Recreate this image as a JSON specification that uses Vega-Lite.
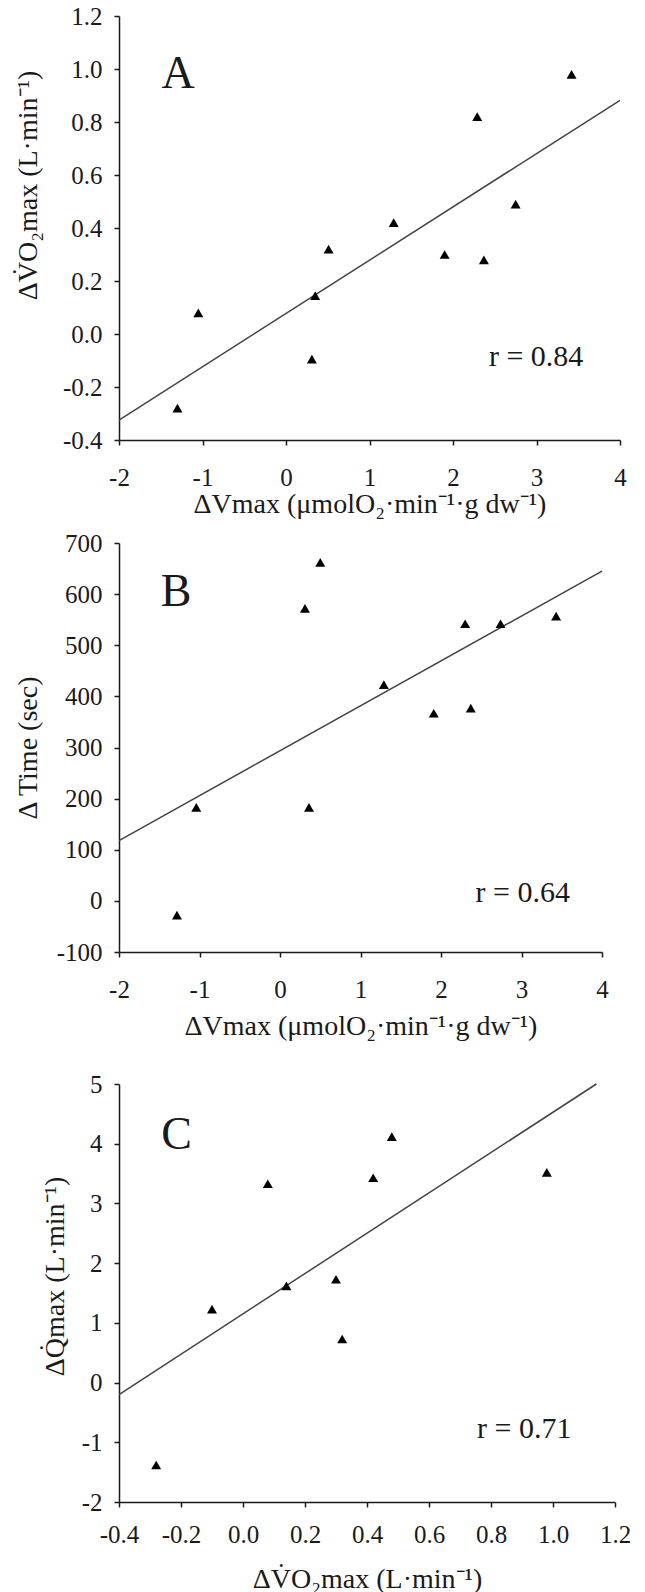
{
  "$schema": "https://vega.github.io/schema/vega-lite/v6.json",
  "padding": {"left": 14, "top": 4, "right": 4, "bottom": 0},
  "background": "white",
  "config": {
    "view": {"stroke": null},
    "axis": {
      "grid": false, "domainColor": "#1a1a1a", "domainWidth": 1.5, "tickColor": "#1a1a1a", "tickWidth": 1.5, "tickSize": 5,
      "labelFont": "Liberation Serif", "labelFontSize": 25, "labelColor": "#1a1a1a",
      "titleFont": "Liberation Serif", "titleFontSize": 28, "titleFontWeight": "normal", "titleColor": "#1a1a1a",
      "labelFlush": false, "labelOverlap": false, "labelBound": false,
      "labelExpr": "replace(datum.label, '\u2212', '-')"
    },
    "axisX": {"labelPadding": 20},
    "axisY": {"labelPadding": 12}
  },
  "datasets": {
    "ptsA": [
      {"x": 3.42, "y": 0.98}, {"x": 2.29, "y": 0.82}, {"x": 2.75, "y": 0.49}, {"x": 1.29, "y": 0.42},
      {"x": 0.51, "y": 0.32}, {"x": 1.90, "y": 0.30}, {"x": 2.37, "y": 0.28}, {"x": 0.35, "y": 0.145},
      {"x": -1.05, "y": 0.08}, {"x": 0.31, "y": -0.095}, {"x": -1.30, "y": -0.28}
    ],
    "lineA": [{"x": -2, "y": -0.325}, {"x": 4, "y": 0.882}],
    "letterA": [{"x": -1.49, "y": 0.98, "t": "A"}],
    "rA": [{"x": 2.43, "y": -0.087, "t": "r = 0.84"}],
    "ptsB": [
      {"x": 0.50, "y": 662}, {"x": 0.31, "y": 572}, {"x": 2.30, "y": 542}, {"x": 2.74, "y": 542},
      {"x": 3.43, "y": 557}, {"x": 1.29, "y": 423}, {"x": 1.91, "y": 367}, {"x": 2.37, "y": 377},
      {"x": -1.04, "y": 183}, {"x": 0.36, "y": 183}, {"x": -1.28, "y": -28}
    ],
    "lineB": [{"x": -2, "y": 118}, {"x": 4, "y": 645}],
    "letterB": [{"x": -1.48, "y": 604, "t": "B"}],
    "rB": [{"x": 2.43, "y": 15, "t": "r = 0.64"}],
    "ptsC": [
      {"x": 0.48, "y": 4.12}, {"x": 0.42, "y": 3.43}, {"x": 0.08, "y": 3.33}, {"x": 0.98, "y": 3.52},
      {"x": 0.30, "y": 1.73}, {"x": 0.14, "y": 1.62}, {"x": -0.10, "y": 1.23}, {"x": 0.32, "y": 0.73},
      {"x": -0.28, "y": -1.38}
    ],
    "lineC": [{"x": -0.4, "y": -0.2}, {"x": 1.14, "y": 5.0}],
    "letterC": [{"x": -0.264, "y": 4.15, "t": "C"}],
    "rC": [{"x": 0.755, "y": -0.78, "t": "r = 0.71"}]
  },
  "spacing": 32,
  "vconcat": [
    {
      "spacing": 13,
      "vconcat": [
        {
          "width": 501, "height": 424,
          "encoding": {
            "x": {"field": "x", "type": "quantitative",
              "scale": {"domain": [-2, 4], "nice": false, "zero": false},
              "axis": {"values": [-2, -1, 0, 1, 2, 3, 4], "title": "ΔVmax (μmolO₂·min⁻¹·g dw⁻¹)", "titlePadding": 0}},
            "y": {"field": "y", "type": "quantitative",
              "scale": {"domain": [-0.4, 1.2], "nice": false, "zero": false},
              "axis": {"values": [-0.4, -0.2, 0, 0.2, 0.4, 0.6, 0.8, 1.0, 1.2], "format": ".1f", "title": "ΔV̇O₂max (L·min⁻¹)", "titleX": -77, "titleY": 169}}
          },
          "layer": [
            {"data": {"name": "lineA"}, "mark": {"type": "line", "color": "#444", "strokeWidth": 1.5}},
            {"data": {"name": "ptsA"}, "mark": {"type": "point", "shape": "triangle-up", "filled": true, "color": "black", "opacity": 1, "size": 100}},
            {"data": {"name": "letterA"}, "mark": {"type": "text", "font": "Liberation Serif", "fontSize": 46, "align": "left", "baseline": "middle", "color": "#1a1a1a"}, "encoding": {"text": {"field": "t"}}},
            {"data": {"name": "rA"}, "mark": {"type": "text", "font": "Liberation Serif", "fontSize": 30, "align": "left", "baseline": "middle", "color": "#1a1a1a"}, "encoding": {"text": {"field": "t"}}}
          ]
        },
        {
          "width": 483, "height": 409,
          "encoding": {
            "x": {"field": "x", "type": "quantitative",
              "scale": {"domain": [-2, 4], "nice": false, "zero": false},
              "axis": {"values": [-2, -1, 0, 1, 2, 3, 4], "title": "ΔVmax (μmolO₂·min⁻¹·g dw⁻¹)", "titlePadding": 10}},
            "y": {"field": "y", "type": "quantitative",
              "scale": {"domain": [-100, 700], "nice": false, "zero": false},
              "axis": {"values": [-100, 0, 100, 200, 300, 400, 500, 600, 700], "title": "Δ Time (sec)", "titleX": -77}}
          },
          "layer": [
            {"data": {"name": "lineB"}, "mark": {"type": "line", "color": "#444", "strokeWidth": 1.5}},
            {"data": {"name": "ptsB"}, "mark": {"type": "point", "shape": "triangle-up", "filled": true, "color": "black", "opacity": 1, "size": 100}},
            {"data": {"name": "letterB"}, "mark": {"type": "text", "font": "Liberation Serif", "fontSize": 46, "align": "left", "baseline": "middle", "color": "#1a1a1a"}, "encoding": {"text": {"field": "t"}}},
            {"data": {"name": "rB"}, "mark": {"type": "text", "font": "Liberation Serif", "fontSize": 30, "align": "left", "baseline": "middle", "color": "#1a1a1a"}, "encoding": {"text": {"field": "t"}}}
          ]
        }
      ]
    },
    {
      "width": 496, "height": 418,
      "encoding": {
        "x": {"field": "x", "type": "quantitative",
          "scale": {"domain": [-0.4, 1.2], "nice": false, "zero": false},
          "axis": {"values": [-0.4, -0.2, 0, 0.2, 0.4, 0.6, 0.8, 1.0, 1.2], "format": ".1f", "title": "ΔV̇O₂max (L·min⁻¹)", "labelPadding": 15, "titlePadding": 18}},
        "y": {"field": "y", "type": "quantitative",
          "scale": {"domain": [-2, 5], "nice": false, "zero": false},
          "axis": {"values": [-2, -1, 0, 1, 2, 3, 4, 5], "title": "ΔQ̇max (L·min⁻¹)", "titleX": -50, "titleY": 192}}
      },
      "layer": [
        {"data": {"name": "lineC"}, "mark": {"type": "line", "color": "#444", "strokeWidth": 1.5}},
        {"data": {"name": "ptsC"}, "mark": {"type": "point", "shape": "triangle-up", "filled": true, "color": "black", "opacity": 1, "size": 100}},
        {"data": {"name": "letterC"}, "mark": {"type": "text", "font": "Liberation Serif", "fontSize": 46, "align": "left", "baseline": "middle", "color": "#1a1a1a"}, "encoding": {"text": {"field": "t"}}},
        {"data": {"name": "rC"}, "mark": {"type": "text", "font": "Liberation Serif", "fontSize": 30, "align": "left", "baseline": "middle", "color": "#1a1a1a"}, "encoding": {"text": {"field": "t"}}}
      ]
    }
  ]
}
